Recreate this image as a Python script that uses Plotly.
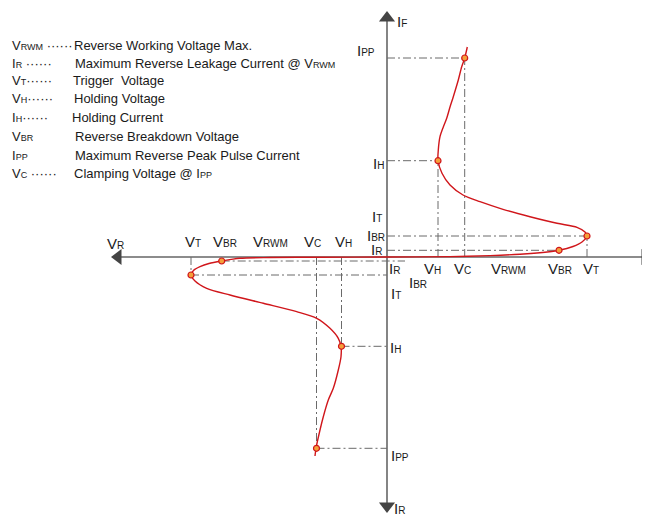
import plotly.graph_objects as go

# I-V curve of the TVS diode (arbitrary units, origin at the axes cross)
curve_v = [-72, -71, -67, -63.7, -58.7, -53.7, -48.7, -46, -46, -48.7, -57, -70.3, -90.3,
           -123.7, -157, -180.3, -192, -196, -193.5, -187, -178, -165.3, -147, -117, -67,
           0, 63, 103, 133, 158, 172, 186, 195, 200, 198, 190, 170, 143, 116, 93, 76, 63,
           55, 51, 51.3, 53, 56.3, 59.7, 63, 66.3, 71.3, 74.7, 77.7, 80.3]
curve_i = [-199, -191.3, -173, -159.7, -143, -131.3, -113, -99.7, -89.3, -81.3, -71.3, -61.3,
           -54.7, -46.3, -38, -31.3, -24, -18, -13.5, -9.7, -6.5, -4, -1.3, -0.5, -0.2,
           0, 0.4, 1.4, 2.8, 4.8, 6.7, 10.5, 15, 21, 25, 29.7, 33.7, 40.3, 47.7, 55.3, 62,
           72, 83.7, 96.3, 107, 120.3, 130, 138.7, 150, 160.3, 177, 190.3, 199, 210]

# marked points: positive quadrant
p_vbr, p_ir = 172, 6.7
p_vt, p_ibr = 200, 21
p_vh, p_ih = 51, 96.3
p_vc, p_ipp = 77.7, 199
# marked points: negative quadrant
n_vbr, n_ir = -165.3, -4
n_vt, n_it = -196, -18
n_vh, n_ih = -45.5, -89.3
n_vc, n_ipp = -70.5, -191.3

pt_v = [p_vbr, p_vt, p_vh, p_vc, n_vbr, n_vt, n_vh, n_vc]
pt_i = [p_ir, p_ibr, p_ih, p_ipp, n_ir, n_it, n_ih, n_ipp]

# legend block (symbol, subscript, dots, description)
legend_sym = ['V', 'I', 'V', 'V', 'I', 'V', 'I', 'V']
legend_sub = ['RWM', 'R', 'T', 'H', 'H', 'BR', 'PP', 'C']
legend_dots = [' ······', ' ······', '······', '······', '······', '', '', ' ······']
legend_desc = ['Reverse Working Voltage Max.',
               'Maximum Reverse Leakage Current @ V<span style="font-size:9px">RWM</span>',
               'Trigger  Voltage',
               'Holding Voltage',
               'Holding Current',
               'Reverse Breakdown Voltage',
               'Maximum Reverse Peak Pulse Current',
               'Clamping Voltage @ I<span style="font-size:9px">PP</span>']
legend_desc_x = [-315, -314, -316, -315, -317, -314, -314, -315]
legend_y = [212, 194, 177, 159, 140, 121, 102, 84]

RED = '#d0161b'
GUIDE = '#6a6a6a'
AXIS = '#666666'
FONT = 'Liberation Sans, Arial, sans-serif'


def lab(main, sub, big=15, small=10):
    return f'<span style="font-size:{big}px">{main}</span><span style="font-size:{small}px">{sub}</span>'


fig = go.Figure()

# 坐標軸
fig.add_shape(type='line', x0=-272, y0=0, x1=258, y1=0, line=dict(color=AXIS, width=1.6), layer='below')
fig.add_shape(type='line', x0=0, y0=-250, x1=0, y1=240, line=dict(color=AXIS, width=1.6), layer='below')

# guide lines from the marked points to the axes
guides = [
    (0, p_ipp, p_vc, p_ipp), (p_vc, 0, p_vc, p_ipp),
    (0, p_ih, p_vh, p_ih), (p_vh, 0, p_vh, p_ih),
    (0, p_ibr, p_vt, p_ibr), (p_vt, 0, p_vt, p_ibr),
    (0, p_ir, p_vbr, p_ir),
    (n_vbr, n_ir, 18, n_ir),
    (n_vt, n_it, 0, n_it), (n_vt, 0, n_vt, n_it),
    (n_vh, n_ih, 0, n_ih), (n_vh, 0, n_vh, n_ih),
    (n_vc, n_ipp, 0, n_ipp), (n_vc, 0, n_vc, n_ipp),
]
for x0, y0, x1, y1 in guides:
    fig.add_shape(type='line', x0=x0, y0=y0, x1=x1, y1=y1, layer='below',
                  line=dict(color=GUIDE, width=1, dash='8px,3px,2px,3px'))

# arrow heads
fig.add_trace(go.Scatter(
    x=[-269, 258, 0, 0], y=[0, 0, 239, -249], mode='markers',
    marker=dict(symbol=['triangle-left', 'triangle-right', 'triangle-up', 'triangle-down'],
                size=14, color='#444444', line=dict(width=0)),
    hoverinfo='skip'))

# I-V 曲線
fig.add_trace(go.Scatter(
    x=curve_v, y=curve_i, mode='lines',
    line=dict(color=RED, width=1.4, shape='spline', smoothing=0.8),
    hoverinfo='skip'))

# 標記點
fig.add_trace(go.Scatter(
    x=pt_v, y=pt_i, mode='markers',
    marker=dict(size=6, color='#f5a03a', line=dict(color=RED, width=1.2)),
    hoverinfo='skip'))

# axis labels: (text, x, y, xanchor)
labels = [
    (lab('V', 'H'), 45, -11, 'center'),
    (lab('V', 'C'), 75, -11, 'center'),
    (lab('V', 'RWM'), 121, -11, 'center'),
    (lab('V', 'BR'), 173, -11, 'center'),
    (lab('V', 'T'), 204, -11, 'center'),
    (lab('V', 'T'), -194, 16, 'center'),
    (lab('V', 'BR'), -162, 16, 'center'),
    (lab('V', 'RWM'), -117, 16, 'center'),
    (lab('V', 'C'), -75, 16, 'center'),
    (lab('V', 'H'), -44, 16, 'center'),
    (lab('V', 'R'), -272, 14, 'center'),
    (lab('V', ''), 256, 16, 'left'),
    (lab('I', 'PP'), -10, 207, 'right'),
    (lab('I', 'H'), -1, 94, 'right'),
    (lab('I', 'T'), -3, 41, 'right'),
    (lab('I', 'BR'), 0, 22, 'right'),
    (lab('I', 'R'), -3, 8, 'right'),
    (lab('I', 'R'), 0, -11, 'left'),
    (lab('I', 'BR'), 20, -25, 'left'),
    (lab('I', 'T'), 2, -36, 'left'),
    (lab('I', 'H'), 1, -90, 'left'),
    (lab('I', 'PP'), 2, -198, 'left'),
    (lab('I', 'R'), 5, -251, 'left'),
    (lab('I', 'F'), 8, 236, 'left'),
]
for text, x, y, anchor in labels:
    fig.add_annotation(x=x, y=y, text=text, showarrow=False, xanchor=anchor, yanchor='middle',
                       font=dict(family=FONT, color='#1a1a1a'))

# legend block
for sym, sub, dots, desc, dx, y in zip(legend_sym, legend_sub, legend_dots, legend_desc,
                                       legend_desc_x, legend_y):
    fig.add_annotation(x=-377, y=y, text=lab(sym, sub, 13, 9) + dots, showarrow=False,
                       xanchor='left', yanchor='middle', font=dict(family=FONT, size=13, color='#1a1a1a'))
    fig.add_annotation(x=dx, y=y, text=desc, showarrow=False,
                       xanchor='left', yanchor='middle', font=dict(family=FONT, size=13, color='#1a1a1a'))

# the page body has an 8px margin, so the figure is 8px smaller and the ranges start 8 units later
fig.update_layout(
    width=642, height=508,
    margin=dict(l=0, r=0, t=0, b=0),
    paper_bgcolor='white', plot_bgcolor='white',
    showlegend=False,
    xaxis=dict(range=[-379, 263], visible=False, fixedrange=True),
    yaxis=dict(range=[-259, 249], visible=False, fixedrange=True),
)

fig.write_html("out.html")
